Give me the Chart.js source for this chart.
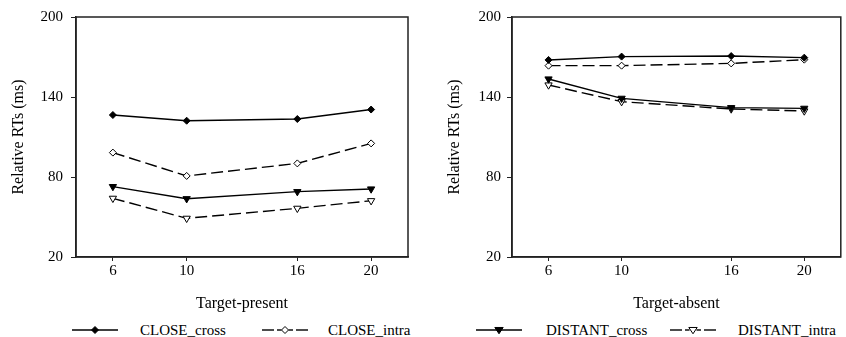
<!DOCTYPE html>
<html><head><meta charset="utf-8">
<script src="https://cdn.jsdelivr.net/npm/chart.js@4/dist/chart.umd.min.js"></script>
<style>
html,body{margin:0;padding:0;background:#fff;}
#wrap{position:relative;width:846px;height:337px;overflow:hidden;background:#fff;font-family:"Liberation Serif","Times New Roman",serif;}
.pane{position:absolute;top:0;width:423px;height:315px;}
.leg{position:absolute;top:321px;height:18px;font-size:15px;line-height:18px;color:#000;white-space:nowrap;}
svg.sw{position:absolute;top:321px;}
</style></head><body>
<div id="wrap">
<div class="pane" style="left:0"><canvas id="c1" width="423" height="315" style="width:423px;height:315px"></canvas></div>
<div class="pane" style="left:423px"><canvas id="c2" width="423" height="315" style="width:423px;height:315px"></canvas></div>
</div>
<script>
// ---- data ----
const setSizes = [6, 10, 16, 20];
const xTicks = [6, 10, 16, 20];
const yTicks = [20, 80, 140, 200];
const seriesNames = ['CLOSE_cross', 'CLOSE_intra', 'DISTANT_cross', 'DISTANT_intra'];
const presentCloseCross   = [126.5, 122.2, 123.5, 130.6];
const presentCloseIntra   = [98.3, 80.8, 90.2, 105.2];
const presentDistantCross = [72.8, 63.7, 69.0, 71.0];
const presentDistantIntra = [64.0, 49.0, 56.5, 62.2];
const absentCloseCross    = [167.8, 170.3, 170.7, 169.5];
const absentCloseIntra    = [163.5, 163.5, 165.2, 168.0];
const absentDistantCross  = [153.5, 139.0, 132.0, 131.5];
const absentDistantIntra  = [149.0, 136.5, 131.0, 129.5];

const FONT = '"Liberation Serif","Times New Roman",serif';

const styles = [
  {pointStyle:'rectRot', fill:'#000', dash:[], radius:3.5, rot:0},
  {pointStyle:'rectRot', fill:'#fff', dash:[12,5], radius:3.5, rot:0},
  {pointStyle:'triangle', fill:'#000', dash:[], radius:4.2, rot:180},
  {pointStyle:'triangle', fill:'#fff', dash:[12,5], radius:4.2, rot:180}
];

function makeDatasets(arrs) {
  return arrs.map((arr, k) => ({
    label: seriesNames[k],
    data: setSizes.map((x, i) => ({x: x, y: arr[i]})),
    borderColor: '#000',
    borderWidth: 1.4,
    borderDash: styles[k].dash,
    pointStyle: styles[k].pointStyle,
    pointRotation: styles[k].rot,
    pointRadius: styles[k].radius,
    pointBackgroundColor: styles[k].fill,
    pointBorderColor: '#000',
    pointBorderWidth: 1,
    tension: 0,
    fill: false
  }));
}

const framePlugin = {
  id: 'frame',
  beforeDatasetsDraw(chart) {
    const a = chart.chartArea, ctx = chart.ctx;
    ctx.save();
    ctx.strokeStyle = '#222';
    ctx.lineWidth = 1.5;
    ctx.strokeRect(a.left, a.top, a.right - a.left, a.bottom - a.top);
    ctx.restore();
  }
};

function makeChart(id, arrs, xTitle, padLeft, padRight, yLabelPad) {
  return new Chart(document.getElementById(id), {
    type: 'line',
    data: {datasets: makeDatasets(arrs)},
    plugins: [framePlugin],
    options: {
      responsive: false,
      animation: false,
      events: [],
      layout: {padding: {left: padLeft, top: 17, right: padRight, bottom: 0}},
      plugins: {legend: {display: false}, tooltip: {enabled: false}},
      scales: {
        x: {
          type: 'linear', min: 4, max: 22,
          afterBuildTicks: s => { s.ticks = xTicks.map(v => ({value: v})); },
          afterFit: s => { s.height = 58; s.paddingLeft = 0; s.paddingRight = 0; },
          grid: {drawOnChartArea: false, drawTicks: true, tickLength: 4, color: '#222', tickWidth: 1},
          border: {display: true, color: '#222', width: 1.5},
          ticks: {color: '#000', font: {family: FONT, size: 15}, padding: 1, maxRotation: 0, autoSkip: false},
          title: {display: true, text: xTitle, color: '#000', font: {family: FONT, size: 16}, padding: {top: 0, bottom: 2}}
        },
        y: {
          type: 'linear', min: 20, max: 200,
          afterBuildTicks: s => { s.ticks = yTicks.map(v => ({value: v})); },
          afterFit: s => { s.width = 76; s.paddingTop = 0; s.paddingBottom = 0; },
          grid: {drawOnChartArea: false, drawTicks: true, tickLength: 5, color: '#222', tickWidth: 1},
          border: {display: true, color: '#222', width: 1.5},
          ticks: {color: '#000', font: {family: FONT, size: 15}, padding: yLabelPad, autoSkip: false},
          title: {display: true, text: 'Relative RTs (ms)', color: '#000', font: {family: FONT, size: 16}, padding: {top: 9, bottom: 0}}
        }
      }
    }
  });
}

makeChart('c1', [presentCloseCross, presentCloseIntra, presentDistantCross, presentDistantIntra], 'Target-present', 0, 15, 8);
makeChart('c2', [absentCloseCross, absentCloseIntra, absentDistantCross, absentDistantIntra], 'Target-absent', 13, 2, 6);

// ---- legend (HTML) ----
const legendPos = [
  {sw: 72, text: 140},
  {sw: 262, text: 328},
  {sw: 476, text: 546},
  {sw: 670, text: 738}
];
const wrap = document.getElementById('wrap');
const NS = 'http://www.w3.org/2000/svg';
seriesNames.forEach((name, k) => {
  const st = styles[k];
  const w = 46, cy = 9, cx = 23;
  const svg = document.createElementNS(NS, 'svg');
  svg.setAttribute('class', 'sw');
  svg.setAttribute('width', w);
  svg.setAttribute('height', 18);
  svg.style.left = legendPos[k].sw + 'px';
  const segs = st.dash.length ? [[0, 12], [15, 19.5], [26.5, 31], [34, 46]] : [[0, 46]];
  segs.forEach(s => {
    const l = document.createElementNS(NS, 'line');
    l.setAttribute('x1', s[0]); l.setAttribute('x2', s[1]);
    l.setAttribute('y1', cy); l.setAttribute('y2', cy);
    l.setAttribute('stroke', '#000'); l.setAttribute('stroke-width', '1.4');
    svg.appendChild(l);
  });
  const p = document.createElementNS(NS, 'polygon');
  const r = st.radius;
  const pts = st.pointStyle === 'rectRot'
    ? [[cx, cy - r], [cx + r, cy], [cx, cy + r], [cx - r, cy]]
    : [[cx - r, cy - r * 0.6], [cx + r, cy - r * 0.6], [cx, cy + r * 0.9]];
  p.setAttribute('points', pts.map(q => q.join(',')).join(' '));
  p.setAttribute('fill', st.fill); p.setAttribute('stroke', '#000'); p.setAttribute('stroke-width', '1');
  svg.appendChild(p);
  wrap.appendChild(svg);
  const t = document.createElement('div');
  t.className = 'leg';
  t.style.left = legendPos[k].text + 'px';
  t.textContent = name;
  wrap.appendChild(t);
});
</script>
</body></html>
